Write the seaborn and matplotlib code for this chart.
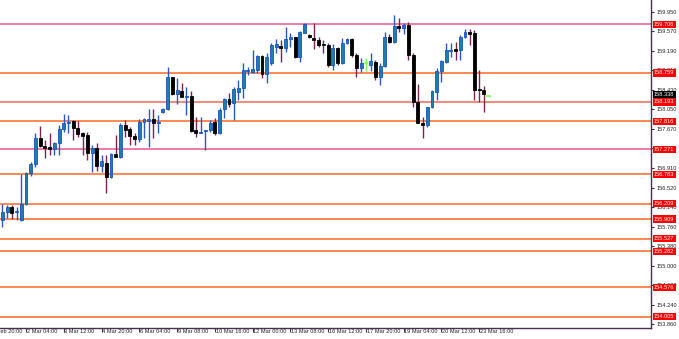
import matplotlib
matplotlib.use("Agg")
import matplotlib.pyplot as plt
import matplotlib.transforms as mtransforms
import seaborn as sns
import numpy as np
import pandas as pd

# ---------------- data (4H candles) ----------------
opens = [155.890,156.052,156.149,156.040,155.890,156.196,156.801,156.982,157.483,157.333,
         157.308,157.269,157.386,157.659,157.782,157.821,157.678,157.581,157.548,157.191,
         157.288,156.949,157.007,156.734,157.177,157.124,157.743,157.659,157.528,157.464,
         157.807,157.821,157.854,157.776,157.996,158.049,158.673,158.347,158.411,158.294,
         158.308,157.645,157.592,157.626,157.645,157.807,157.581,158.049,158.244,158.177,
         158.392,158.458,158.796,158.782,158.815,159.088,158.737,158.946,159.269,159.283,
         159.238,159.414,159.453,159.063,159.542,159.498,159.445,159.400,159.322,159.303,
         158.913,159.238,158.946,159.347,159.414,159.108,158.848,158.946,158.913,158.977,
         158.684,158.893,159.464,159.367,159.673,159.628,159.693,159.108,158.197,157.787,
         157.743,158.088,158.392,158.801,158.977,159.186,159.219,159.205,159.464,159.562,
         159.531,158.425,158.425,158.308]
closes = [156.052,156.149,156.032,156.066,156.202,156.801,156.982,157.483,157.333,157.300,
          157.269,157.386,157.659,157.787,157.807,157.678,157.561,157.534,157.191,157.288,
          156.943,157.046,156.734,157.171,157.124,157.743,157.645,157.528,157.464,157.807,
          157.854,157.854,157.776,157.787,158.060,158.673,158.347,158.425,158.294,158.314,
          157.631,157.581,157.612,157.645,157.776,157.581,158.035,158.244,158.146,158.439,
          158.458,158.815,158.809,158.829,159.088,158.737,159.074,159.303,159.316,159.238,
          159.414,159.464,159.063,159.562,159.712,159.453,159.400,159.303,159.308,158.913,
          159.250,158.946,159.347,159.414,159.108,158.848,158.946,158.946,158.996,158.684,
          158.893,159.464,159.367,159.673,159.640,159.693,159.108,158.197,157.787,157.743,
          158.088,158.411,158.801,158.996,159.205,159.205,159.191,159.464,159.562,159.517,
          158.425,158.419,158.347,158.308]
highs = [156.196,156.183,156.183,156.149,156.787,156.832,157.027,157.592,157.723,157.450,
         157.592,157.417,157.743,157.957,157.938,157.840,157.826,157.612,157.612,157.353,
         157.386,157.158,157.158,157.191,157.548,157.776,157.840,157.709,157.592,157.854,
         157.873,158.055,158.049,157.938,158.074,158.879,158.684,158.659,158.567,158.489,
         158.411,157.904,157.904,157.645,157.840,157.873,158.068,158.269,158.361,158.489,
         158.620,158.946,158.879,159.205,159.108,159.108,159.141,159.336,159.414,159.400,
         159.659,159.531,159.464,159.581,159.737,159.517,159.726,159.464,159.400,159.336,
         159.316,159.258,159.433,159.433,159.433,159.141,159.043,159.043,159.141,159.010,
         158.946,159.562,159.517,159.888,159.823,159.726,159.757,159.141,158.542,157.904,
         158.099,158.425,158.848,159.010,159.336,159.336,159.367,159.498,159.609,159.609,
         159.595,158.815,158.503,158.318]
lows = [155.759,155.923,155.904,155.890,155.871,156.183,156.748,156.929,157.319,157.099,
        157.158,157.158,157.158,157.612,157.581,157.450,157.514,157.158,157.060,156.832,
        156.851,156.832,156.422,156.703,157.119,157.093,157.514,157.353,157.353,157.417,
        157.483,157.319,157.483,157.581,157.977,158.035,158.328,158.152,158.289,157.938,
        157.612,157.514,157.581,157.255,157.612,157.548,157.567,157.879,158.099,157.840,
        158.230,158.263,158.717,158.751,158.751,158.653,158.556,158.913,159.152,158.977,
        159.172,159.269,159.043,158.977,159.531,159.439,159.219,159.269,159.152,158.879,
        158.815,158.913,158.932,159.322,159.074,158.684,158.782,158.801,158.801,158.620,
        158.523,158.879,159.336,159.336,159.562,159.517,159.010,158.099,157.776,157.483,
        157.709,158.068,158.230,158.587,158.946,159.074,159.010,159.010,159.433,159.303,
        158.230,158.197,158.002,158.298]

time_labels = ["27 Feb 20:00", "2 Mar 04:00", "3 Mar 12:00", "4 Mar 20:00", "6 Mar 04:00",
               "9 Mar 08:00", "10 Mar 16:00", "12 Mar 00:00", "13 Mar 08:00", "16 Mar 12:00",
               "17 Mar 20:00", "19 Mar 04:00", "20 Mar 12:00", "23 Mar 16:00"]
time_label_index = [-3, 5, 13, 21, 29, 37, 45, 53, 61, 69, 77, 85, 93, 101]

price_ticks = [153.860, 154.240, 154.620, 155.000, 155.380, 155.760, 156.140, 156.520,
               156.910, 157.290, 157.670, 158.050, 158.430, 158.810, 159.190, 159.570, 159.950]
price_tick_labels = ["153.860", "154.240", "154.620", "155.000", "155.380", "155.760",
                     "156.140", "156.520", "156.910", "157.290", "157.670", "158.050",
                     "158.430", "158.810", "159.190", "159.570", "159.950"]

level_prices = [159.706, 158.759, 158.193, 157.816, 157.271, 156.783, 156.209,
                155.909, 155.527, 155.282, 154.576, 154.005]
level_labels = ["159.706", "158.759", "158.193", "157.816", "157.271", "156.783", "156.209",
                "155.909", "155.527", "155.282", "154.576", "154.005"]
level_kind = ["pink", "orange", "salmon", "orange", "pink", "orange", "orange",
              "orange", "orange", "orange", "orange", "orange"]

current_price = 158.338
current_label = "158.338"

# ---------------- styling ----------------
sns.set_theme(style="white")
plt.rcParams['font.family'] = ['Liberation Sans', 'DejaVu Sans']

W, H = 679, 339
FS = 4.1
fig = plt.figure(figsize=(W / 100, H / 100), dpi=100)
fig.patch.set_facecolor("white")
ax = fig.add_axes([0, 1 - 328 / H, 651 / W, 328 / H])
ax.set_facecolor("white")

df = pd.DataFrame({"o": opens, "h": highs, "l": lows, "c": closes})
df["i"] = np.arange(len(df))
bull = df[df.c > df.o]
bear = df[df.c < df.o]
doji = df[df.c == df.o]

BULL_FACE, BULL_EDGE, BULL_WICK = "#1b7fa8", "#1f4fc4", "#2a58c4"
BEAR_FACE, BEAR_WICK = "#000000", "#7a2456"
DOJI_C = "#7CFC5A"
MINH = 0.018
BW = 0.62

# wicks
ax.vlines(bull.i, bull.l, bull.h, colors=BULL_WICK, lw=1.0, zorder=2)
ax.vlines(bear.i, bear.l, bear.h, colors=BEAR_WICK, lw=1.0, zorder=2)
ax.vlines(doji.i, doji.l, doji.h, colors=DOJI_C, lw=1.0, zorder=2)
# bodies
ax.bar(bull.i, np.maximum(bull.c - bull.o, MINH), bottom=bull.o, width=BW,
       color=BULL_FACE, edgecolor=BULL_EDGE, linewidth=0.6, zorder=3)
ax.bar(bear.i, np.maximum(bear.o - bear.c, MINH), bottom=bear.c, width=BW,
       color=BEAR_FACE, edgecolor=BEAR_FACE, linewidth=0.6, zorder=3)
ax.hlines(doji.o, doji.i - 0.45, doji.i + 0.45, colors=DOJI_C, lw=1.2, zorder=3)

# horizontal levels
col_map = {"pink": "#ef6f9a", "orange": "#ff7f45", "salmon": "#f7806e"}
for p, k in zip(level_prices, level_kind):
    ax.axhline(p, color=col_map[k], lw=1.3, zorder=1)

ax.set_xlim(-0.508, 137.4)
ax.set_ylim(153.785, 160.18)

# spines
for s in ["top", "left"]:
    ax.spines[s].set_visible(False)
for s in ["right", "bottom"]:
    ax.spines[s].set_color("#4a3050")
    ax.spines[s].set_linewidth(1.0)

# right price axis
ax.yaxis.tick_right()
ax.set_yticks(price_ticks)
ax.set_yticklabels(price_tick_labels)
ax.tick_params(axis="y", which="both", right=True, left=False, length=2.5, width=0.8,
               color="#333333", pad=1.5, labelsize=FS, labelcolor="#222222")

# bottom time axis
ax.set_xticks(time_label_index[1:])
ax.set_xticklabels([])
ax.tick_params(axis="x", which="both", bottom=True, length=3, width=0.8,
               color="#4a3050", pad=1)
xt = mtransforms.blended_transform_factory(ax.transData, fig.transFigure)
for idx, lab in zip(time_label_index, time_labels):
    ax.text(idx + 0.15, 1 - 331.5 / H, lab, transform=xt, ha="left", va="center",
            fontsize=FS, color="#222222", clip_on=False)

# level price boxes on the right axis
yt = mtransforms.blended_transform_factory(fig.transFigure, ax.transData)
for p, lab in zip(level_prices, level_labels):
    ax.text(654 / W, p, lab, transform=yt, ha="left", va="center", fontsize=FS,
            color="white", clip_on=False, zorder=10,
            bbox=dict(boxstyle="square,pad=0.2", fc="#ff0000", ec="none"))
ax.text(654 / W, current_price, current_label, transform=yt, ha="left", va="center",
        fontsize=FS, color="white", clip_on=False, zorder=11,
        bbox=dict(boxstyle="square,pad=0.2", fc="#000000", ec="none"))

fig.savefig("out.png", dpi=100, facecolor="white")
